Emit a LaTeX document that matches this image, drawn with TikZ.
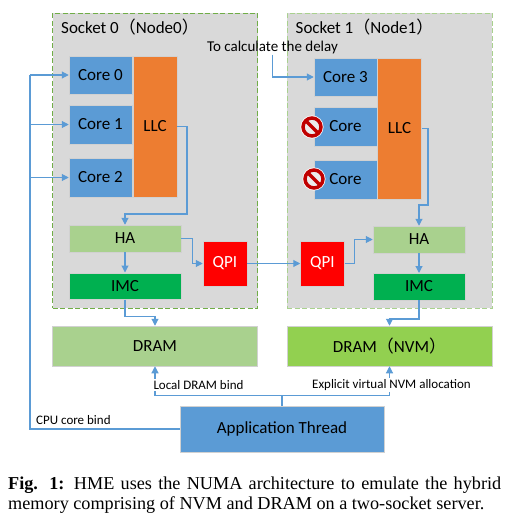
\documentclass[tikz,border=0pt]{standalone}
\usepackage{fontspec}
\setmainfont{Liberation Serif}
\setsansfont{Carlito}
\newfontfamily\cjkfont{Noto Sans CJK SC}
\usetikzlibrary{arrows.meta}
\definecolor{corebg}{HTML}{5B9BD5}
\definecolor{llcbg}{HTML}{ED7D31}
\definecolor{habg}{HTML}{A9D18E}
\definecolor{imcbg}{HTML}{00B050}
\definecolor{nvmbg}{HTML}{92D050}
\definecolor{sockbg}{HTML}{D9D9D9}
\definecolor{sockline}{HTML}{70AD47}
\definecolor{stopred}{HTML}{C00000}
\tikzset{
  box/.style={draw=black!18,line width=.5pt,inner sep=0pt,font=\sffamily\fontsize{17}{19}\selectfont},
  socket/.style={fill=sockbg,line width=1pt,dash pattern=on 5pt off 2.5pt,
    minimum width=205pt,minimum height=295pt},
  core/.style={box,fill=corebg,minimum width=63pt,minimum height=38.5pt},
  llc/.style={box,fill=llcbg,minimum width=44pt,minimum height=141pt},
  ha/.style={box,fill=habg,minimum height=27pt},
  imc/.style={box,fill=imcbg,minimum height=26.5pt},
  qpi/.style={box,fill=red,text=white,minimum width=44pt,minimum height=45pt},
  mem/.style={box,minimum width=205pt,minimum height=40pt},
  lbl/.style={inner sep=0pt,font=\sffamily\fontsize{13}{15}\selectfont},
  title/.style={inner sep=0pt,anchor=west,font=\sffamily\fontsize{17}{19}\selectfont},
  nosign/.style={circle,draw=stopred,fill=sockbg!50!white,line width=3.5pt,minimum size=18pt,inner sep=0pt,
    preaction={draw=white,line width=5pt},
    path picture={\draw[stopred,line width=3.5pt] (path picture bounding box.north west) -- (path picture bounding box.south east);}},
  link/.style={draw=corebg,line width=1.1pt},
  arrow/.style={link,-{Triangle[length=7pt,width=7pt]}}
}
\begin{document}
\begin{tikzpicture}[x=1pt,y=-1pt]
  \useasboundingbox (0,0) rectangle (531,525);

  \node[socket,draw=sockline] (sock0) at (155,160.5) {};
  \node[socket,draw=habg] (sock1) at (389.5,160.5) {};
  \node[title] (name0) at (61,27) {Socket 0{\cjkfont （}Node0{\cjkfont ）}};
  \node[title] (name1) at (295.5,27) {Socket 1{\cjkfont （}Node1{\cjkfont ）}};

  \node[core] (core0) at (100.5,75) {Core 0};
  \node[core] (core1) at (100.5,124.5) {Core 1};
  \node[core] (core2) at (100.5,177.5) {Core 2};
  \node[llc]  (llc0)  at (155,126.5) {LLC};
  \node[core] (core3) at (345.5,77) {Core 3};
  \node[core] (core4) at (345.5,126.5) {Core};
  \node[core] (core5) at (345.5,179.5) {Core};
  \node[llc]  (llc1)  at (399.5,128.5) {LLC};
  \node[nosign] (stop4) at (312,127) {};
  \node[nosign] (stop5) at (314,179) {};

  \node[ha,minimum width=112pt]  (ha0)  at (125,238.5) {HA};
  \node[imc,minimum width=112pt] (imc0) at (125,286) {IMC};
  \node[ha,minimum width=92pt]   (ha1)  at (419,239.5) {HA};
  \node[imc,minimum width=92pt]  (imc1) at (419,286.5) {IMC};
  \node[qpi] (qpi0) at (225,263.5) {QPI};
  \node[qpi] (qpi1) at (322.5,263.5) {QPI};

  \node[mem,fill=habg] (dram0) at (155,346) {DRAM};
  \node[mem,fill=nvmbg] (dram1) at (389.5,346) {DRAM{\cjkfont （}NVM{\cjkfont ）}};
  \node[box,fill=corebg,minimum width=204pt,minimum height=46pt] (app) at (282,429) {Application Thread};

  \coordinate (bus) at (30,75);
  \coordinate (turn0) at (187,214);
  \coordinate (turn1) at (428,205);
  \coordinate (bindl) at (155,395.5);
  \coordinate (bindr) at (389.5,395.5);

  % core binding
  \draw[link] (app.west) -| (bus);
  \foreach \to in {core0,core1,core2}
    \draw[arrow] (bus |- \to.west) -- (\to.west);

  \draw[arrow] (llc0.east) -| (turn0) -| (ha0.north);
  \draw[arrow] (llc1.east) -| (turn1) -| (ha1.north);
  \draw[arrow] (ha0.south) -- (imc0.north);
  \draw[arrow] (ha1.south) -- (imc1.north);
  \draw[arrow] (ha0.east) -- ++(11,0) |- (qpi0.west);
  \draw[arrow] (qpi0.east) -- (qpi1.west);
  \draw[arrow] (qpi1.east) -- ++(10,0) |- (ha1.west);
  \draw[arrow] (imc0.south) -- ++(0,17) -| (dram0.north);
  \draw[arrow] (imc1.south) -- ++(0,19) -| (dram1.north);

  \draw[arrow] (app.north) |- (bindl) -- (dram0.south);
  \draw[arrow] (app.north) |- (bindr) -- (dram1.south);

  \node[lbl,fill=white,inner ysep=1pt] (bind0) at (198.5,385) {Local DRAM bind};
  \node[lbl,fill=white,inner ysep=1pt] (bind1) at (391.5,385) {Explicit virtual NVM allocation};
  \node[lbl,anchor=west] (bindcpu) at (36,420) {CPU core bind};

  \node[lbl,font=\sffamily\fontsize{15}{17}\selectfont] (delay) at (272.5,48) {To calculate the delay};
  \draw[arrow] (delay.south) |- (core3.west);

  % caption
  \node[inner sep=0pt,anchor=north west,text width=493pt,font=\fontsize{18.2}{20}\selectfont,align=justify] (caption) at (8,477)
    {\textbf{Fig. 1:} HME uses the NUMA architecture to emulate the hybrid\linebreak memory comprising of NVM and DRAM on a two-socket server.};
\end{tikzpicture}
\end{document}
